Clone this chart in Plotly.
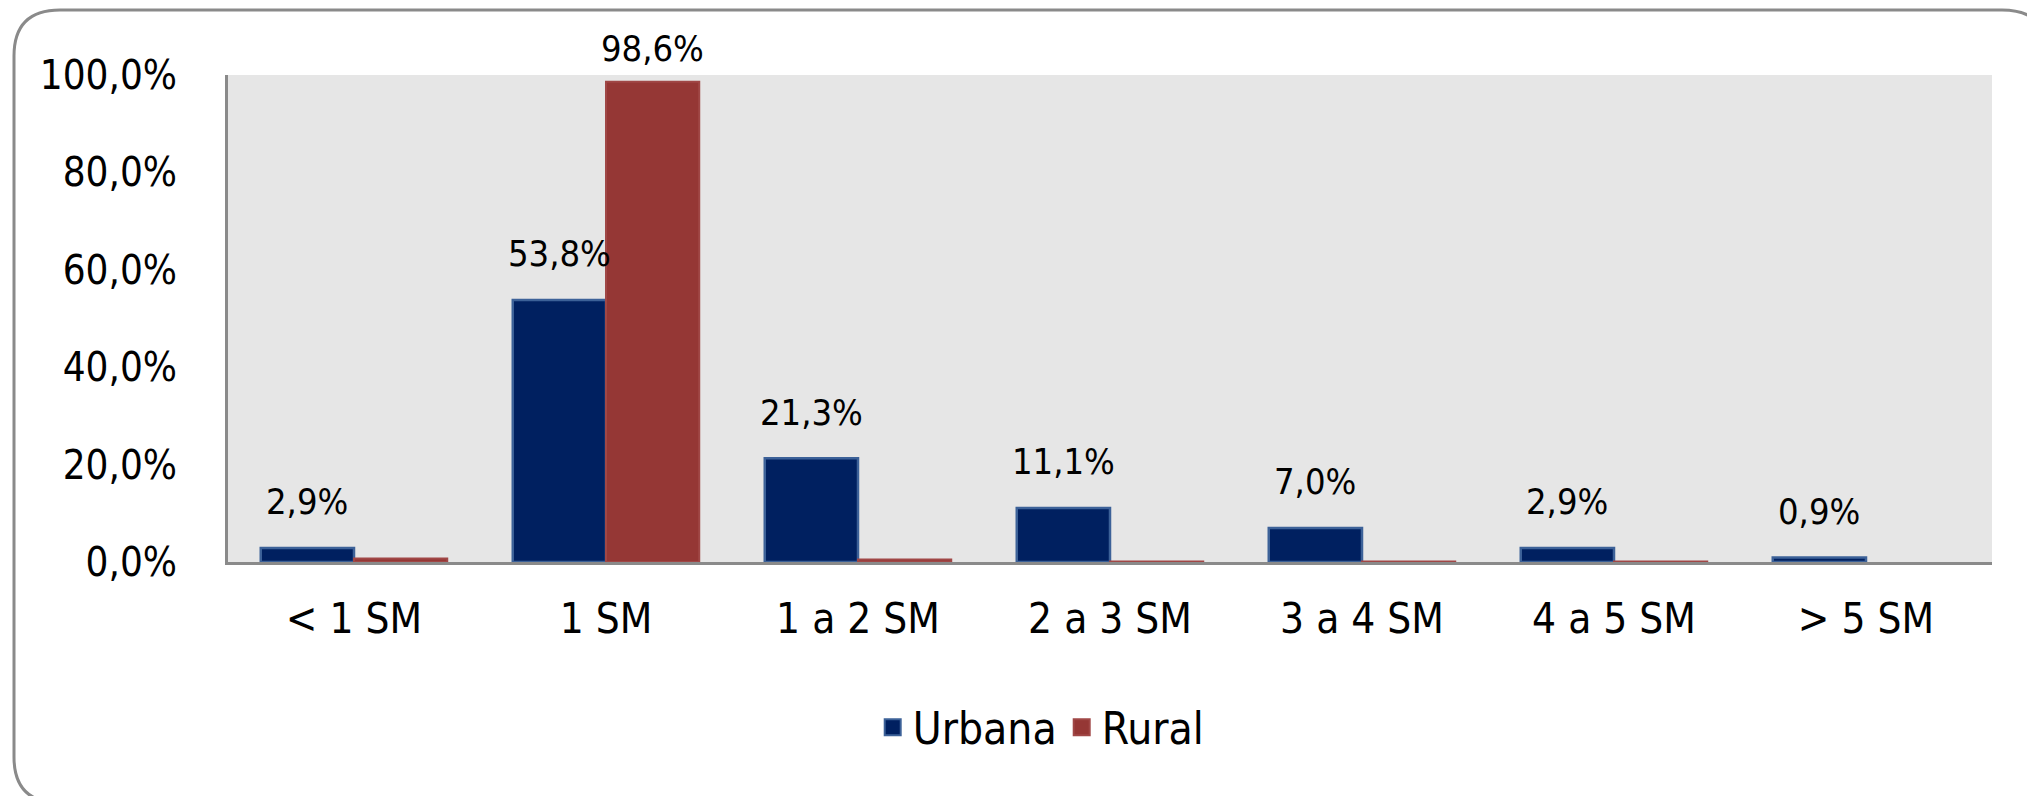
import plotly.graph_objects as go

categories = ["< 1 SM", "1 SM", "1 a 2 SM", "2 a 3 SM", "3 a 4 SM", "4 a 5 SM", "> 5 SM"]
urbana = [2.9, 53.8, 21.3, 11.1, 7.0, 2.9, 0.9]
rural = [0.7, 98.6, 0.5, 0.1, 0.1, 0.1, 0.0]

FONT = "Liberation Sans Narrow, DejaVu Sans Condensed, Liberation Sans, Arial"
# page body has an 8px margin, so the figure is 16px smaller than the window
W, H = 2019, 788
L, R, T, B = 220, 35, 67, 234

URB = "#002060"
RUR = "#953735"


def pct(v):
    return f"{v:.1f}".replace(".", ",") + "%"


fig = go.Figure()
fig.add_trace(go.Bar(x=categories, y=urbana, name="Urbana", showlegend=False,
                     marker=dict(color=URB, line=dict(color="#3c6198", width=2.5))))
fig.add_trace(go.Bar(x=categories, y=rural, name="Rural", showlegend=False,
                     marker=dict(color=RUR, line=dict(color="#a04746",
                                                      width=[2 if v > 0 else 0 for v in rural]))))

# bigger square legend keys than the bar default
fig.add_trace(go.Scatter(x=[categories[0]], y=[None], mode="markers", name="Urbana",
                         marker=dict(symbol="square", size=16, color=URB,
                                     line=dict(color="#3c6198", width=2))))
fig.add_trace(go.Scatter(x=[categories[0]], y=[None], mode="markers", name="Rural",
                         marker=dict(symbol="square", size=16, color=RUR,
                                     line=dict(color="#a04746", width=2))))

# data labels (Excel style, floating above the bars)
half = (1 - 0.26) / 4
for i, v in enumerate(urbana):
    fig.add_annotation(x=i - half, y=v, text=pct(v), showarrow=False,
                       yanchor="middle", yshift=46, font=dict(size=36, color="#000"))
for i, v in enumerate(rural):
    if v > 5:
        fig.add_annotation(x=i + half, y=v, text=pct(v), showarrow=False,
                           yanchor="middle", yshift=33, font=dict(size=36, color="#000"))

# rounded outer frame, in paper coordinates
pw, ph = W - L - R, H - T - B


def px(x):
    return (x - L) / pw


def py(y):
    return (H - B - y) / ph


x0, x1, y0, y1, r = 6, 2040, 2, 795, 46
path = (f"M {px(x0 + r)},{py(y0)} L {px(x1 - r)},{py(y0)} "
        f"Q {px(x1)},{py(y0)} {px(x1)},{py(y0 + r)} L {px(x1)},{py(y1 - r)} "
        f"Q {px(x1)},{py(y1)} {px(x1 - r)},{py(y1)} L {px(x0 + r)},{py(y1)} "
        f"Q {px(x0)},{py(y1)} {px(x0)},{py(y1 - r)} L {px(x0)},{py(y0 + r)} "
        f"Q {px(x0)},{py(y0)} {px(x0 + r)},{py(y0)} Z")
fig.add_shape(type="path", path=path, xref="paper", yref="paper",
              line=dict(color="#8a8a8a", width=3), layer="below")

fig.update_layout(
    width=W, height=H,
    margin=dict(l=L, r=R, t=T, b=B),
    paper_bgcolor="white",
    plot_bgcolor="#e6e6e6",
    separators=",.",
    barmode="group",
    bargap=0.26,
    bargroupgap=0,
    font=dict(family=FONT, size=42, color="#000"),
    legend=dict(orientation="h", x=0.461, xanchor="center", y=-0.34, yanchor="middle",
                font=dict(size=44), itemwidth=30, tracegroupgap=0),
    showlegend=True,
    hovermode=False,
)
fig.update_xaxes(showline=True, linecolor="#8a8a8a", linewidth=3, ticks="",
                 ticklabelstandoff=18, tickfont=dict(size=42))
fig.update_yaxes(range=[0, 100], dtick=20, tickformat=".1f", ticksuffix="%",
                 showgrid=False, zeroline=False, showline=True, linecolor="#8a8a8a",
                 linewidth=3, ticks="", ticklabelstandoff=40, tickfont=dict(size=40))

fig.write_html("out.html", config={"displayModeBar": False})
